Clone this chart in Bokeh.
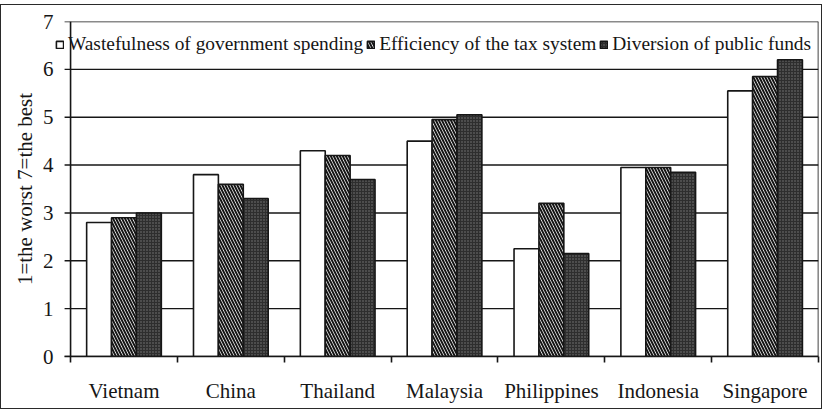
from bokeh.plotting import figure
from bokeh.models import ColumnDataSource, FixedTicker, Legend, LegendItem, Range1d, Span
from bokeh.embed import file_html
from bokeh.resources import INLINE

countries = ["Vietnam", "China", "Thailand", "Malaysia", "Philippines", "Indonesia", "Singapore"]
wastefulness = [2.8, 3.8, 4.3, 4.5, 2.25, 3.95, 5.55]
efficiency = [2.9, 3.6, 4.2, 4.95, 3.2, 3.95, 5.85]
diversion = [3.0, 3.3, 3.7, 5.05, 2.15, 3.85, 6.2]
series_names = ["Wastefulness of government spending", "Efficiency of the tax system", "Diversion of public funds"]
y_ticks = [0, 1, 2, 3, 4, 5, 6, 7]

FONT = "Liberation Serif"
INK = "#161616"
BW = 0.233
N = len(countries)
LEFT_PAD = 0.141   # room left of the y axis for the legend marker
TICK = 0.056       # tick length, data units

centers = [i + 0.5 for i in range(N)]
src = ColumnDataSource(dict(
    xw=[c - BW for c in centers], xe=centers, xd=[c + BW for c in centers],
    w=wastefulness, e=efficiency, d=diversion,
))
grid_src = ColumnDataSource(dict(x0=[-TICK] * len(y_ticks), x1=[N] * len(y_ticks), y=y_ticks))

p = figure(frame_width=763, frame_height=335, output_backend="svg", toolbar_location=None,
           x_range=Range1d(-LEFT_PAD, N), y_range=Range1d(0, 7),
           min_border_left=54, min_border_right=3, min_border_top=16, min_border_bottom=52)
p.styles = {"border": "1px solid #2a2a2a", "margin-top": "4px"}
p.outline_line_color = None
p.xgrid.grid_line_color = None
p.ygrid.grid_line_color = None

# gridlines (extended left to form the y ticks)
p.segment(x0="x0", x1="x1", y0="y", y1="y", source=grid_src, line_color=INK, line_width=1.4)
# y axis line and right frame edge
p.add_layout(Span(location=0, dimension="height", line_color=INK, line_width=1.6))
p.add_layout(Span(location=N, dimension="height", line_color=INK, line_width=1.6))

r1 = p.vbar(x="xw", top="w", width=BW, source=src, fill_color="white",
            line_color=INK, line_width=1.6)
r2 = p.vbar(x="xe", top="e", width=BW, source=src, fill_color="white",
            line_color=INK, line_width=1.6, hatch_pattern="\\", hatch_color=INK,
            hatch_scale=6, hatch_weight=2)
r3 = p.vbar(x="xd", top="d", width=BW, source=src, fill_color="#2e2e2e",
            line_color=INK, line_width=1.6, hatch_pattern=".", hatch_color="#7a7a7a",
            hatch_scale=3, hatch_weight=1)

# x axis: labels at centres, ticks at category boundaries
p.xaxis.ticker = FixedTicker(ticks=centers, minor_ticks=list(range(N + 1)))
p.xaxis.major_label_overrides = {c: n for c, n in zip(centers, countries)}
p.xaxis.bounds = (-TICK, N)
p.xaxis.major_tick_line_color = None
p.xaxis.major_tick_out = 0
p.xaxis.major_tick_in = 0
p.xaxis.minor_tick_out = 6
p.xaxis.minor_tick_in = 0
p.xaxis.minor_tick_line_color = INK
p.xaxis.minor_tick_line_width = 1.6
p.xaxis.major_label_standoff = 16
p.xaxis.axis_line_color = INK
p.xaxis.axis_line_width = 1.6

# y axis: only labels here (line & ticks drawn above)
p.yaxis.ticker = FixedTicker(ticks=y_ticks)
p.yaxis.axis_line_color = None
p.yaxis.major_tick_line_color = None
p.yaxis.minor_tick_line_color = None
p.yaxis.major_tick_out = 0
p.yaxis.major_tick_in = 0
p.yaxis.major_label_standoff = 2
p.yaxis.axis_label = "1=the worst 7=the best"
p.yaxis.axis_label_standoff = 3
p.yaxis.axis_label_text_font_style = "normal"

for ax in (p.xaxis, p.yaxis):
    ax.major_label_text_font = FONT
    ax.major_label_text_font_size = "21px"
    ax.major_label_text_color = INK
    ax.axis_label_text_font = FONT
    ax.axis_label_text_font_size = "21px"
    ax.axis_label_text_color = INK

legend = Legend(items=[LegendItem(label=series_names[0], renderers=[r1]),
                       LegendItem(label=series_names[1], renderers=[r2]),
                       LegendItem(label=series_names[2], renderers=[r3])],
                orientation="horizontal", location=(0, 301),
                glyph_width=9, glyph_height=9, label_standoff=4, spacing=3,
                padding=0, margin=0, label_height=20,
                label_text_font=FONT, label_text_font_size="19.4px", label_text_color=INK,
                border_line_alpha=0, background_fill_alpha=0)
p.add_layout(legend, "center")

open("out.html", "w").write(file_html(p, INLINE))
